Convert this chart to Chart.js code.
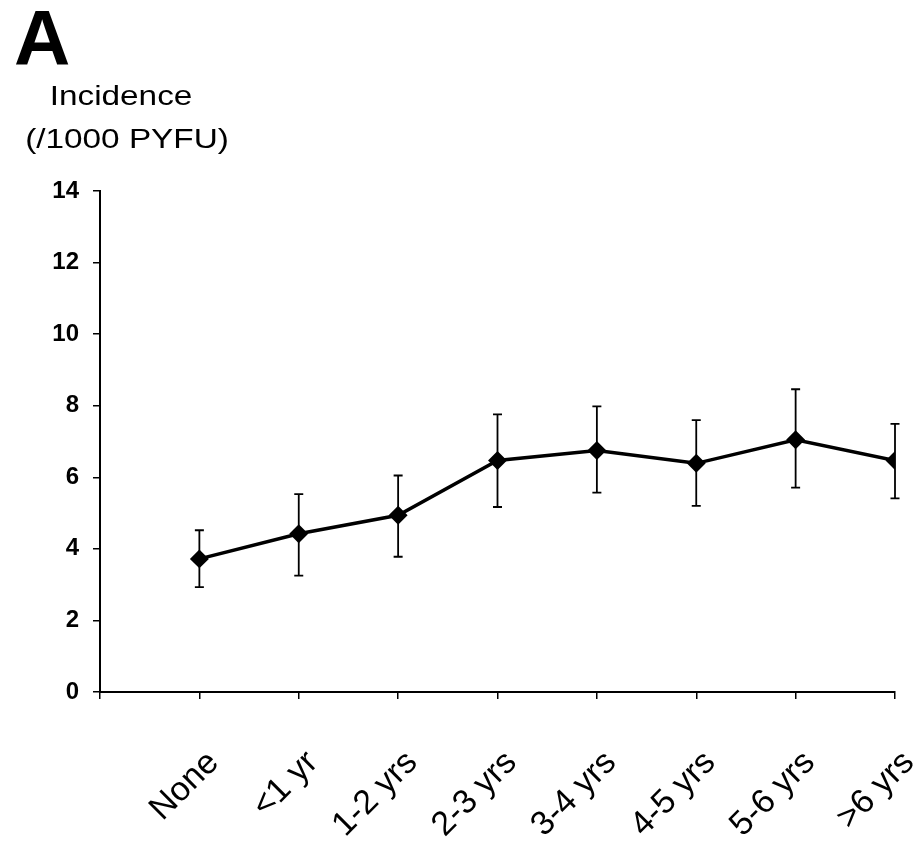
<!DOCTYPE html>
<html>
<head>
<meta charset="utf-8">
<script src="https://cdn.jsdelivr.net/npm/chart.js@4"></script>
<style>
  html, body { margin: 0; padding: 0; background: #fff; }
  #wrap { width: 920px; height: 852px; }
</style>
</head>
<body>
<div id="wrap"><canvas id="chart" width="920" height="852"></canvas></div>
<script>
// data
const categories = ["None", "<1 yr", "1-2 yrs", "2-3 yrs", "3-4 yrs", "4-5 yrs", "5-6 yrs", ">6 yrs"];
const incidence = [3.72, 4.42, 4.94, 6.47, 6.75, 6.39, 7.05, 6.47];
const lowerCI = [2.93, 3.25, 3.78, 5.17, 5.57, 5.2, 5.71, 5.41];
const upperCI = [4.52, 5.53, 6.05, 7.76, 7.98, 7.6, 8.46, 7.49];
const yTicks = [0, 2, 4, 6, 8, 10, 12, 14];

const FONT = "'Liberation Sans', Arial, sans-serif";

// error bars drawn through the scales
const errorBars = {
  id: "errorBars",
  afterDatasetsDraw(chart) {
    const ctx = chart.ctx;
    const xs = chart.scales.x, ys = chart.scales.y;
    ctx.save();
    ctx.strokeStyle = "#000";
    ctx.lineWidth = 1.8;
    categories.forEach((c, i) => {
      const x = xs.getPixelForValue(i);
      const yl = ys.getPixelForValue(lowerCI[i]);
      const yu = ys.getPixelForValue(upperCI[i]);
      ctx.beginPath();
      ctx.moveTo(x, yl); ctx.lineTo(x, yu);
      ctx.moveTo(x - 4.5, yl); ctx.lineTo(x + 4.5, yl);
      ctx.moveTo(x - 4.5, yu); ctx.lineTo(x + 4.5, yu);
      ctx.stroke();
    });
    ctx.restore();
  }
};

// panel letter and y axis title (the scan is a little wider than tall)
const headings = {
  id: "headings",
  afterDraw(chart) {
    const ctx = chart.ctx;
    ctx.save();
    ctx.fillStyle = "#000";
    ctx.textBaseline = "alphabetic";
    ctx.textAlign = "left";
    ctx.font = "bold 78px " + FONT;
    ctx.fillText("A", 14, 65);
    ctx.font = "28px " + FONT;
    ctx.textAlign = "center";
    ctx.save();
    ctx.translate(121, 105);
    ctx.scale(1.19, 1);
    ctx.fillText("Incidence", 0, 0);
    ctx.restore();
    ctx.save();
    ctx.translate(127, 148);
    ctx.scale(1.19, 1);
    ctx.fillText("(/1000 PYFU)", 0, 0);
    ctx.restore();
    ctx.restore();
  }
};

const ctx = document.getElementById("chart").getContext("2d");
new Chart(ctx, {
  type: "line",
  data: {
    datasets: [{
      data: categories.map((c, i) => ({ x: i, y: incidence[i] })),
      borderColor: "#000",
      backgroundColor: "#000",
      borderWidth: 3.5,
      pointStyle: "rectRot",
      pointRadius: 7,
      pointBackgroundColor: "#000",
      pointBorderColor: "#000",
      tension: 0
    }]
  },
  options: {
    responsive: false,
    animation: false,
    layout: { padding: { top: 191, right: 25, left: 0, bottom: 0 } },
    plugins: { legend: { display: false }, tooltip: { enabled: false } },
    scales: {
      x: {
        type: "linear",
        min: -1,
        max: categories.length - 1,
        afterFit: s => { s.height = 160; s.paddingLeft = 0; s.paddingRight = 0; },
        afterBuildTicks: s => { s.ticks = [{ value: -1 }].concat(categories.map((c, i) => ({ value: i }))); },
        border: { color: "#000", width: 2 },
        grid: { drawOnChartArea: false, color: "#000", tickLength: 7, lineWidth: 1.5 },
        ticks: {
          color: "#000",
          font: { family: FONT, size: 34 },
          minRotation: 45,
          maxRotation: 45,
          autoSkip: false,
          padding: 44,
          labelOffset: 14,
          callback: v => v >= 0 ? categories[v] : ""
        }
      },
      y: {
        min: 0,
        max: 14,
        afterFit: s => { s.width = 100; },
        afterBuildTicks: s => { s.ticks = yTicks.map(v => ({ value: v })); },
        border: { color: "#000", width: 2 },
        grid: { drawOnChartArea: false, color: "#000", tickLength: 7, lineWidth: 1.5 },
        ticks: {
          color: "#000",
          font: { family: FONT, size: 24, weight: "bold" },
          padding: 14
        }
      }
    }
  },
  plugins: [errorBars, headings]
});
</script>
</body>
</html>
